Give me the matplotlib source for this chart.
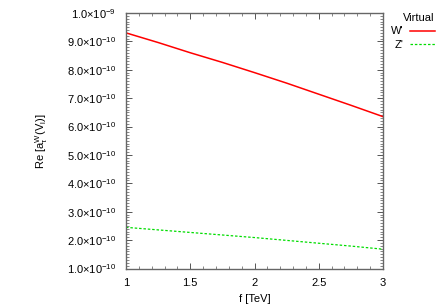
import matplotlib
matplotlib.use('Agg')
import matplotlib.pyplot as plt
from matplotlib.ticker import MultipleLocator, FuncFormatter

plt.rcParams['font.family'] = 'Liberation Sans'
plt.rcParams['mathtext.fontset'] = 'custom'
plt.rcParams['mathtext.rm'] = 'Liberation Sans'
plt.rcParams['mathtext.it'] = 'Liberation Sans:italic'
plt.rcParams['mathtext.default'] = 'regular'

# data
f_tev = [1.0, 1.25, 1.5, 1.75, 2.0, 2.25, 2.5, 2.75, 3.0]
re_w = [9.30e-10, 8.96e-10, 8.60e-10, 8.26e-10, 7.90e-10, 7.53e-10, 7.14e-10, 6.75e-10, 6.35e-10]
re_z = [2.45e-10, 2.36e-10, 2.27e-10, 2.18e-10, 2.09e-10, 1.99e-10, 1.89e-10, 1.79e-10, 1.68e-10]

fig = plt.figure(figsize=(4.36, 3.05), dpi=100)
ax = fig.add_axes([126 / 436, 1 - 268.5 / 305, (383 - 126) / 436, (268.5 - 13) / 305])

ax.plot(f_tev, re_w, color='#ff0000', lw=1.1, label="W'")
ax.plot(f_tev, re_z, color='#00dd00', lw=0.9, ls=(0, (2, 1.5)), label="Z'")

ax.set_xlim(1, 3)
ax.set_ylim(1e-10, 1e-9)
ax.xaxis.set_major_locator(MultipleLocator(0.5))
ax.xaxis.set_minor_locator(MultipleLocator(0.1))
ax.yaxis.set_major_locator(MultipleLocator(1e-10))
ax.yaxis.set_minor_locator(MultipleLocator(1e-11))


def sci_fmt(v, pos):
    exp = -10
    if v >= 0.99e-9:
        exp = -9
    m = v / 10 ** exp
    return r'$%.1f{\times}10^{%d}$' % (m, exp)


ax.yaxis.set_major_formatter(FuncFormatter(sci_fmt))
ax.xaxis.set_major_formatter(FuncFormatter(lambda v, p: '%g' % v))

ax.tick_params(which='both', direction='in', top=True, right=True, labelsize=8, color='#555555')
ax.tick_params(which='major', length=4, width=0.7)
ax.tick_params(which='minor', length=2, width=0.5)
ax.tick_params(axis='x', pad=7)
ax.tick_params(axis='y', pad=7)
for s in ax.spines.values():
    s.set_color('#666666')
    s.set_linewidth(1.0)

ax.set_xlabel('f [TeV]', fontsize=8, labelpad=4)
ax.set_ylabel(r'Re [$a_\tau^W(V_l)$]', fontsize=8, labelpad=12)

leg = ax.legend(title='Virtual', loc='upper left', bbox_to_anchor=(1.0, 1.03), frameon=False,
                markerfirst=False, fontsize=8, title_fontsize=8, handlelength=2.2,
                handletextpad=0.6, labelspacing=0.3, borderaxespad=0.3)
leg._legend_box.align = 'right'

fig.savefig('out.png', dpi=100)
